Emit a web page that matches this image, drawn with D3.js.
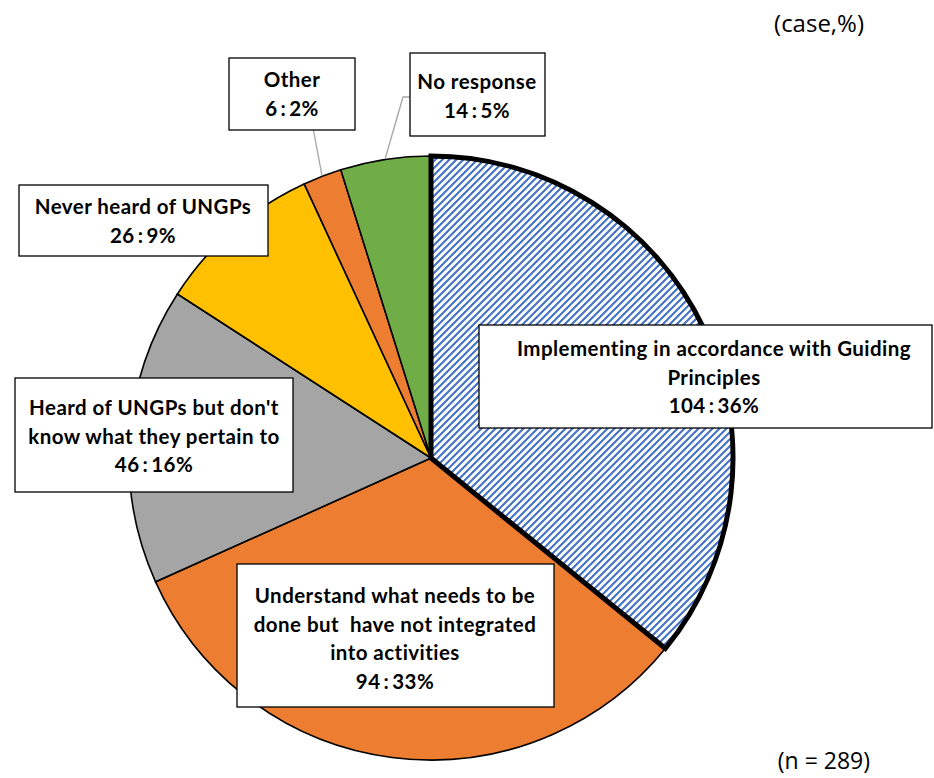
<!DOCTYPE html>
<html>
<head>
<meta charset="utf-8">
<script src="https://cdn.jsdelivr.net/npm/d3@7"></script>
<style>
  html, body { margin: 0; padding: 0; background: #ffffff; }
  svg { display: block; }
  text { white-space: pre; }
</style>
</head>
<body>
<svg id="chart" width="934" height="778"></svg>
<script>
// Survey responses on the UN Guiding Principles (UNGPs)
const categories = [
  "Implementing in accordance with Guiding Principles",
  "Understand what needs to be done but have not integrated into activities",
  "Heard of UNGPs but don't know what they pertain to",
  "Never heard of UNGPs",
  "Other",
  "No response"
];
const labelLines = [
  ["Implementing in accordance with Guiding", "Principles"],
  ["Understand what needs to be", "done but  have not integrated", "into activities"],
  ["Heard of UNGPs but don't", "know what they pertain to"],
  ["Never heard of UNGPs"],
  ["Other"],
  ["No response"]
];
const counts = [104, 94, 46, 26, 6, 14];
const totalN = 289;
const sliceColors = ["url(#hatch)", "#ED7D31", "#A5A5A5", "#FFC000", "#ED7D31", "#70AD47"];

// Label box placement: box rect, text centre x, first line centre y, and
// whether the label is tied to its slice with a leader line.
const boxes = [
  { x: 479, y: 325, w: 453, h: 103, tx: 714, ty: 349, lead: null },
  { x: 237, y: 564, w: 317, h: 143, tx: 395, ty: 596, lead: null },
  { x: 15,  y: 378, w: 278, h: 114, tx: 154, ty: 408, lead: null },
  { x: 19,  y: 185, w: 249, h: 71,  tx: 143, ty: 207, lead: null },
  { x: 229, y: 58,  w: 126, h: 72,  tx: 292, ty: 80,  lead: "bottom" },
  { x: 410, y: 53,  w: 135, h: 83,  tx: 477, ty: 82,  lead: "left" }
];

const svg = d3.select("#chart");
const cx = 431, cy = 458, radius = 302;
const lineH = 28.5;
const fontFamily = "Lato, 'Open Sans', 'DejaVu Sans', sans-serif";
const noteFamily = "'Open Sans', Lato, 'DejaVu Sans', sans-serif";

// wide upward-diagonal hatch for the highlighted slice
const hs = 7;
const defs = svg.append("defs");
const pat = defs.append("pattern")
  .attr("id", "hatch")
  .attr("patternUnits", "userSpaceOnUse")
  .attr("width", hs).attr("height", hs);
pat.append("rect").attr("width", hs).attr("height", hs).attr("fill", "#ffffff");
pat.append("path")
  .attr("d", `M-1,${hs + 1} L${hs + 1},-1 M-${hs / 2},${hs / 2} L${hs / 2},-${hs / 2} M${hs / 2},${hs * 1.5} L${hs * 1.5},${hs / 2}`)
  .attr("stroke", "#4472C4")
  .attr("stroke-width", 2.1);

const pie = d3.pie().sort(null).value(d => d).startAngle(0).endAngle(2 * Math.PI);
const arcs = pie(counts);
const arc = d3.arc().innerRadius(0).outerRadius(radius);

const g = svg.append("g").attr("transform", `translate(${cx},${cy})`);

// ordinary slices first, highlighted slice last so its heavy outline sits on top
const order = d3.range(arcs.length).filter(i => i !== 0).concat([0]);
g.selectAll("path.slice")
  .data(order.map(i => arcs[i]))
  .join("path")
  .attr("class", "slice")
  .attr("d", arc)
  .attr("fill", d => sliceColors[d.index])
  .attr("stroke", "#000000")
  .attr("stroke-linejoin", "miter")
  .attr("stroke-width", d => d.index === 0 ? 5 : 1.6);

// leader lines
arcs.forEach((a, i) => {
  const b = boxes[i];
  if (!b.lead) return;
  const mid = (a.startAngle + a.endAngle) / 2;
  const sx = cx + (radius + 1) * Math.sin(mid);
  const sy = cy - (radius + 1) * Math.cos(mid);
  let pts;
  if (b.lead === "bottom") {
    pts = [[sx, sy], [b.x + b.w * 0.67, b.y + b.h]];
  } else {
    const ey = b.y + b.h * 0.53;
    pts = [[sx, sy], [b.x - 7, ey], [b.x, ey]];
  }
  svg.append("path")
    .attr("d", d3.line()(pts))
    .attr("fill", "none")
    .attr("stroke", "#A6A6A6")
    .attr("stroke-width", 1.3);
});

// label boxes
arcs.forEach((a, i) => {
  const b = boxes[i];
  const lg = svg.append("g");
  lg.append("rect")
    .attr("x", b.x).attr("y", b.y)
    .attr("width", b.w).attr("height", b.h)
    .attr("fill", "#ffffff")
    .attr("stroke", "#000000")
    .attr("stroke-width", 1.3);
  const pct = Math.round(counts[i] / totalN * 100);
  const lines = labelLines[i].concat([`${counts[i]}\u2009:\u2009${pct}%`]);
  lg.selectAll("text")
    .data(lines)
    .join("text")
    .attr("x", b.tx)
    .attr("y", (d, k) => b.ty + k * lineH)
    .attr("dy", "0.36em")
    .attr("text-anchor", "middle")
    .attr("font-family", fontFamily)
    .attr("font-weight", "bold")
    .attr("font-size", 20.5)
    .attr("letter-spacing", 0.45)
    .attr("fill", "#000000")
    .text(d => d);
});

// unit and sample size notes
svg.append("text")
  .attr("x", 864).attr("y", 32)
  .attr("text-anchor", "end")
  .attr("font-family", noteFamily)
  .attr("font-size", 24)
  .attr("fill", "#000000")
  .text("(case,%)");

svg.append("text")
  .attr("x", 870).attr("y", 769)
  .attr("text-anchor", "end")
  .attr("font-family", noteFamily)
  .attr("font-size", 23)
  .attr("fill", "#000000")
  .text("(n = 289)");
</script>
</body>
</html>
